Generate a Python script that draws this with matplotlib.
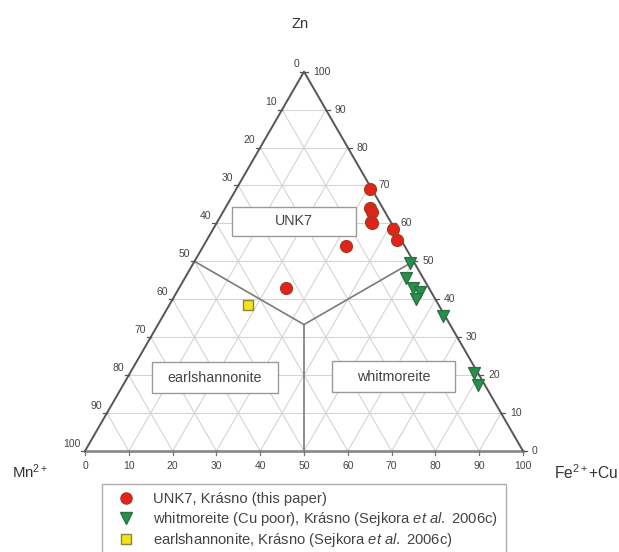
import numpy as np
import matplotlib

matplotlib.use("Agg")
import matplotlib.pyplot as plt
from matplotlib.patches import Rectangle
from matplotlib.lines import Line2D

plt.rcParams["font.family"] = ["Liberation Sans", "DejaVu Sans"]
plt.rcParams["mathtext.fontset"] = "custom"
plt.rcParams["mathtext.rm"] = "Liberation Sans"
plt.rcParams["mathtext.it"] = "Liberation Sans:italic"

# compositions in % (Mn2+, Fe2+ + Cu, Zn)
unk7_mn = [0.5, 3.0, 3.0, 4.5, 4.5, 0.5, 1.0, 13.5, 32.5]
unk7_fe = [30.5, 33.0, 34.0, 35.0, 35.5, 41.0, 43.5, 32.5, 24.5]
unk7_zn = [69.0, 64.0, 63.0, 60.5, 60.0, 58.5, 55.5, 54.0, 43.0]

whit_mn = [1.0, 4.0, 3.5, 2.5, 4.5, 0.5, 1.0, 1.5]
whit_fe = [49.5, 50.5, 53.5, 55.5, 55.5, 64.0, 78.5, 81.0]
whit_zn = [49.5, 45.5, 43.0, 42.0, 40.0, 35.5, 20.5, 17.5]

earl_mn = [43.5]
earl_fe = [18.0]
earl_zn = [38.5]

ticks = [0, 10, 20, 30, 40, 50, 60, 70, 80, 90, 100]

labels = [
    "UNK7, Krásno (this paper)",
    r"whitmoreite (Cu poor), Krásno (Sejkora $\mathit{et\ al.}$ 2006c)",
    r"earlshannonite, Krásno (Sejkora $\mathit{et\ al.}$ 2006c)",
]

H = np.sqrt(3) / 2


def tern(fe, zn):
    fe = np.asarray(fe, dtype=float)
    zn = np.asarray(zn, dtype=float)
    return fe + zn / 2, zn * H


fig = plt.figure(figsize=(6.19, 5.52), dpi=100)
ax = fig.add_axes([0, 0, 1, 1])
ax.set_xlim(-19.41, 121.92)
ax.set_ylim(-23.06, 102.97)
ax.axis("off")

grid_kw = dict(color="#d4d4d4", lw=0.8, zorder=1)
for i in ticks[1:-1]:
    # constant Zn
    x, y = tern([0, 100 - i], [i, i])
    ax.plot(x, y, **grid_kw)
    # constant Fe+Cu
    x, y = tern([i, i], [0, 100 - i])
    ax.plot(x, y, **grid_kw)
    # constant Mn
    x, y = tern([100 - i, 0], [0, 100 - i])
    ax.plot(x, y, **grid_kw)

# triangle frame
ax.plot([0, 100], [0, 0], color="#8c8c8c", lw=2.0, zorder=3)
x, y = tern([0, 0, 100], [0, 100, 0])
ax.plot(x, y, color="#555555", lw=1.4, zorder=3)

# field boundaries meeting at the barycentre
c = 100 / 3
for fe, zn in [([0, c], [50, c]), ([50, c], [50, c]), ([50, c], [0, c])]:
    x, y = tern(fe, zn)
    ax.plot(x, y, color="#7a7a7a", lw=1.2, zorder=2)

tick_kw = dict(fontsize=7.5, color="#444444")
for t in ticks:
    # bottom axis: Fe2+ + Cu
    ax.plot([t, t], [0, -1.0], color="#777777", lw=0.9, zorder=3)
    ax.text(t, -3.4, str(t), ha="center", va="center", **tick_kw)
    # left axis: Mn2+
    lx, ly = tern(0, 100 - t)
    ax.plot([lx, lx - 0.9], [ly, ly], color="#555555", lw=0.9, zorder=3)
    ax.text(lx - 1.1, ly + 1.7, str(t), ha="right", va="center", **tick_kw)
    # right axis: Zn
    rx, ry = tern(100 - t, t)
    ax.plot([rx, rx + 0.9], [ry, ry], color="#555555", lw=0.9, zorder=3)
    ax.text(rx + 2.0, ry, str(t), ha="left", va="center", **tick_kw)

ax.text(49.2, 97.5, "Zn", ha="center", va="center", fontsize=10.5, color="#333333")
ax.text(-12.6, -4.8, r"Mn$^{2+}$", ha="center", va="center", fontsize=10.8, color="#333333")
ax.text(114.4, -5.0, r"Fe$^{2+}$+Cu", ha="center", va="center", fontsize=11.2, color="#333333")

# field name boxes
fields = [
    ("UNK7", 33.5, 49.1, 28.4, 6.7),
    ("earlshannonite", 15.3, 13.2, 28.8, 7.1),
    ("whitmoreite", 56.4, 13.5, 28.1, 7.0),
]
for name, bx, by, bw, bh in fields:
    ax.add_patch(Rectangle((bx, by), bw, bh, facecolor="white", edgecolor="#9a9a9a",
                           lw=1.0, zorder=4))
    ax.text(bx + bw / 2, by + bh / 2, name, ha="center", va="center",
            fontsize=10.3, color="#444444", zorder=5)

x, y = tern(unk7_fe, unk7_zn)
ax.scatter(x, y, s=72, marker="o", facecolor="#e3221c", edgecolor="#a8391c", lw=1.0, zorder=6)
x, y = tern(whit_fe, whit_zn)
ax.scatter(x, y, s=72, marker="v", facecolor="#24934a", edgecolor="#2f6e45", lw=1.0, zorder=6)
x, y = tern(earl_fe, earl_zn)
ax.scatter(x, y, s=52, marker="s", facecolor="#f4e31c", edgecolor="#8f8530", lw=1.0, zorder=6)

handles = [
    Line2D([], [], ls="none", marker="o", ms=8, mfc="#e3221c", mec="#a8391c"),
    Line2D([], [], ls="none", marker="v", ms=8, mfc="#24934a", mec="#2f6e45"),
    Line2D([], [], ls="none", marker="s", ms=7, mfc="#f4e31c", mec="#8f8530"),
]
leg = fig.legend(handles, labels, loc="upper left", bbox_to_anchor=(102 / 619, 1 - 484 / 552),
                 fontsize=10.6, frameon=True, fancybox=False, borderpad=0.55,
                 labelspacing=0.25, handletextpad=0.72, handlelength=2.2,
                 borderaxespad=0)
leg.get_frame().set_edgecolor("#9a9a9a")
leg.get_frame().set_linewidth(1.0)
for txt in leg.get_texts():
    txt.set_color("#444444")

fig.savefig("out.png", dpi=100, facecolor="white")
